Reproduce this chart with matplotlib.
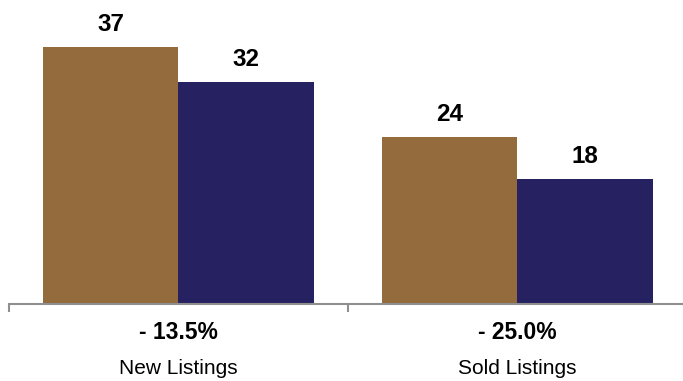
import matplotlib
matplotlib.use("Agg")
import matplotlib.pyplot as plt
import numpy as np
from matplotlib.transforms import blended_transform_factory

categories = ["New Listings", "Sold Listings"]
prev_values = [37, 24]
curr_values = [32, 18]
changes = ["- 13.5%", "- 25.0%"]

brown = "#936B3C"
navy = "#262262"
axis_gray = "#8F8F8F"

plt.rcParams['font.family'] = ['Liberation Sans', 'DejaVu Sans']

W, H = 683, 381
fig = plt.figure(figsize=(W/100, H/100), dpi=100)
axis_y = 303.5
ax = fig.add_axes([9/W, (H - axis_y)/H, 678/W, axis_y/H])

x = np.arange(len(categories))
w = 0.4
b1 = ax.bar(x - w/2, prev_values, w, color=brown)
b2 = ax.bar(x + w/2, curr_values, w, color=navy)

for bars, vals in ((b1, prev_values), (b2, curr_values)):
    for r, v in zip(bars, vals):
        ax.annotate(str(v), (r.get_x() + r.get_width()/2, v), xytext=(0, 11.5),
                    textcoords="offset points", ha="center", va="baseline",
                    fontsize=17.5, fontweight="bold", color="black")

ax.set_xlim(-0.5, len(categories) - 0.5)
ax.set_ylim(0, axis_y/6.92)

for s in ("top", "right", "left"):
    ax.spines[s].set_visible(False)
ax.spines["bottom"].set_color(axis_gray)
ax.spines["bottom"].set_linewidth(1.5)
ax.set_yticks([])
ax.set_xticks([])
ax.set_xticks(np.arange(-0.5, len(categories)), minor=True)
ax.tick_params(axis="x", which="minor", length=6, width=1.5, color=axis_gray, labelbottom=False)

trans = blended_transform_factory(ax.transData, fig.transFigure)
for i, (c, ch) in enumerate(zip(categories, changes)):
    ax.text(i, (H - 339)/H, ch, transform=trans, ha="center", va="baseline",
            fontsize=16.5, fontweight="bold", color="black")
    ax.text(i, (H - 373.5)/H, c, transform=trans, ha="center", va="baseline",
            fontsize=15, color="black")

fig.savefig("out.png", dpi=100)
